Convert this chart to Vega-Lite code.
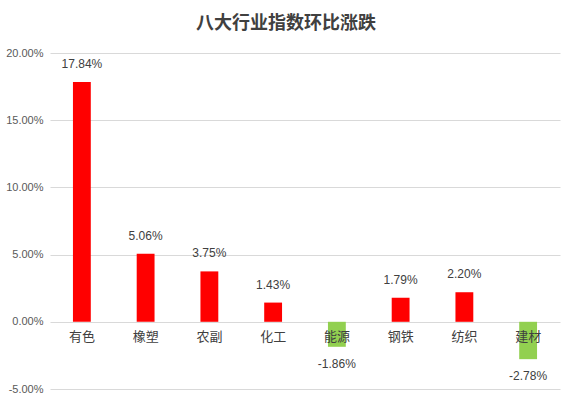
{
  "$schema": "https://vega.github.io/schema/vega-lite/v6.json",
  "autosize": "none",
  "width": 510,
  "height": 336,
  "padding": {"left": 50, "top": 53, "right": 13, "bottom": 18},
  "background": "white",
  "title": {
    "text": "八大行业指数环比涨跌",
    "font": "Noto Sans CJK SC",
    "fontSize": 18,
    "fontWeight": "bold",
    "color": "#404040",
    "anchor": "middle",
    "dx": -19,
    "offset": 14
  },
  "config": {
    "view": {"stroke": null},
    "locale": {
      "number": {"decimal": ".", "thousands": ",", "grouping": [3], "currency": ["$", ""], "minus": "-"}
    },
    "axis": {"labelFont": "Liberation Sans", "labelColor": "#595959"}
  },
  "data": {
    "values": [
      {"industry": "有色", "change": 0.1784},
      {"industry": "橡塑", "change": 0.0506},
      {"industry": "农副", "change": 0.0375},
      {"industry": "化工", "change": 0.0143},
      {"industry": "能源", "change": -0.0186},
      {"industry": "钢铁", "change": 0.0179},
      {"industry": "纺织", "change": 0.022},
      {"industry": "建材", "change": -0.0278}
    ]
  },
  "encoding": {
    "x": {
      "field": "industry",
      "type": "nominal",
      "sort": null,
      "scale": {"paddingInner": 0.72, "paddingOuter": 0.36},
      "axis": null
    }
  },
  "layer": [
    {
      "mark": {"type": "bar"},
      "encoding": {
        "y": {
          "field": "change",
          "type": "quantitative",
          "scale": {"domain": [-0.05, 0.2], "nice": false},
          "axis": {
            "values": [-0.05, 0, 0.05, 0.1, 0.15, 0.2],
            "format": ".2%",
            "title": null,
            "domain": false,
            "ticks": false,
            "labelFontSize": 11,
            "labelPadding": 7,
            "gridColor": "#d9d9d9",
            "gridWidth": 1
          }
        },
        "color": {
          "condition": {"test": "datum.change < 0", "value": "#92d050"},
          "value": "#ff0000"
        }
      }
    },
    {
      "transform": [{"filter": "datum.change >= 0"}],
      "mark": {"type": "text", "baseline": "bottom", "dy": -11, "font": "Liberation Sans", "fontSize": 12, "color": "#404040"},
      "encoding": {
        "y": {"field": "change", "type": "quantitative"},
        "text": {"field": "change", "type": "quantitative", "format": ".2%"}
      }
    },
    {
      "transform": [{"filter": "datum.change < 0"}],
      "mark": {"type": "text", "baseline": "top", "dy": 12, "font": "Liberation Sans", "fontSize": 12, "color": "#404040"},
      "encoding": {
        "y": {"field": "change", "type": "quantitative"},
        "text": {"field": "change", "type": "quantitative", "format": ".2%"}
      }
    },
    {
      "mark": {"type": "text", "baseline": "middle", "dy": 15, "font": "Noto Sans CJK SC", "fontSize": 13, "color": "#404040"},
      "encoding": {
        "y": {"datum": 0, "type": "quantitative"},
        "text": {"field": "industry", "type": "nominal"}
      }
    }
  ]
}
